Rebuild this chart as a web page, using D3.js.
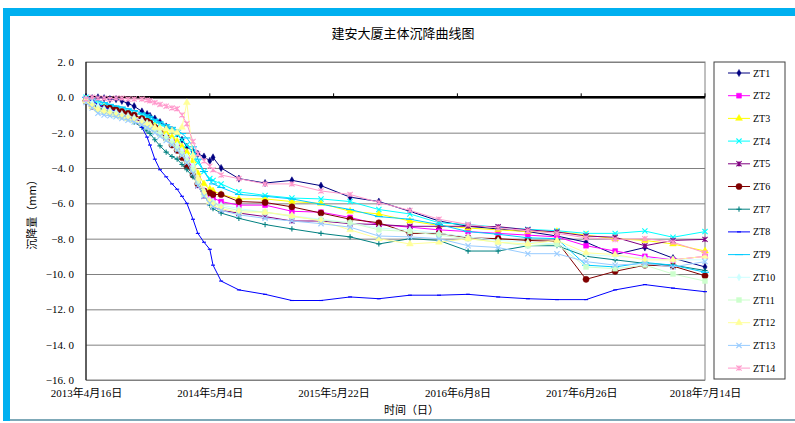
<!DOCTYPE html>
<html>
<head>
<meta charset="utf-8">
<script src="https://cdn.jsdelivr.net/npm/d3@7"></script>
<style>
  body { margin: 0; background: #fff; }
  text { font-family: "Liberation Serif", "Noto Sans CJK SC", serif; fill: #000; }
</style>
</head>
<body>
<div id="chart"></div>
<script>
/*******  Data ******/
// survey dates (shared by all points)
const dates = [
  "2013-04-16", "2013-05-05", "2013-05-23", "2013-06-11", "2013-06-29", "2013-07-18",
  "2013-08-05", "2013-08-24", "2013-09-12", "2013-10-06", "2013-10-22", "2013-10-31",
  "2013-11-15", "2013-12-01", "2013-12-20", "2014-01-07", "2014-01-23", "2014-02-07",
  "2014-02-22", "2014-03-13", "2014-03-28", "2014-04-16", "2014-05-04", "2014-05-14",
  "2014-06-08",
  "2014-08-02", "2014-10-22", "2015-01-13", "2015-04-13", "2015-07-12", "2015-10-09",
  "2016-01-13", "2016-04-12", "2016-07-11", "2016-10-12", "2017-01-12", "2017-04-12",
  "2017-07-11", "2017-10-09", "2018-01-09", "2018-04-06", "2018-07-14"
];

// settlement (mm) per point
const zt1  = [0, -0.05, 0, -0.05, -0.1, -0.1, -0.2, -0.35, -0.5, -0.8, -0.95, -1.05, -1.2, -1.4, -1.65, -1.85, -2.05, -2.4, -2.8, -3.05, -3.2, -3.35, -3.6, -3.4, -4.0,
              -4.6, -4.85, -4.7, -5.0, -5.65, -5.9, -6.45, -7.0, -7.3, -7.45, -7.6, -7.85, -8.2, -8.9, -8.5, -9.1, -9.6];
const zt2  = [-0.1, -0.3, -0.5, -0.6, -0.7, -0.8, -0.9, -1.0, -1.1, -1.3, -1.45, -1.55, -1.75, -1.95, -2.2, -2.5, -2.8, -3.1, -3.5, -4.0, -4.6, -5.3, -5.6, -5.7, -5.9,
              -6.1, -6.1, -6.45, -6.5, -6.8, -7.2, -7.35, -7.5, -7.6, -7.7, -7.8, -7.9, -8.4, -8.7, -9.0, -9.2, -9.0];
const zt3  = [-0.1, -0.3, -0.45, -0.55, -0.65, -0.75, -0.85, -0.95, -1.05, -1.2, -1.35, -1.45, -1.6, -1.8, -2.0, -2.25, -2.5, -2.8, -3.1, -3.6, -4.3, -4.9, -5.2, -5.3, -5.5,
              -5.75, -5.75, -5.9, -6.0, -6.45, -6.6, -7.0, -7.25, -7.4, -7.5, -7.6, -7.6, -7.8, -8.0, -8.1, -8.3, -8.7];
const zt4  = [0, -0.2, -0.35, -0.45, -0.55, -0.6, -0.7, -0.8, -0.9, -1.0, -1.1, -1.2, -1.35, -1.5, -1.7, -1.9, -2.1, -2.4, -2.7, -3.1, -3.7, -4.2, -4.6, -4.7, -4.9,
              -5.35, -5.55, -5.7, -5.75, -5.9, -6.35, -6.6, -7.1, -7.2, -7.35, -7.47, -7.55, -7.7, -7.7, -7.57, -7.92, -7.6];
const zt5  = [-0.2, -0.4, -0.6, -0.7, -0.8, -0.9, -1.0, -1.1, -1.2, -1.4, -1.55, -1.65, -1.85, -2.05, -2.3, -2.55, -2.85, -3.2, -3.6, -4.2, -5.0, -5.6, -6.0, -6.2, -6.4,
              -6.55, -6.75, -7.0, -7.0, -7.15, -7.2, -7.3, -7.3, -7.3, -7.32, -7.5, -7.62, -7.85, -7.92, -8.4, -8.1, -8.04];
const zt6  = [-0.2, -0.5, -0.6, -0.6, -0.6, -0.65, -0.8, -0.9, -1.0, -1.2, -1.35, -1.45, -1.7, -1.95, -2.3, -2.7, -3.0, -3.4, -3.9, -4.4, -4.9, -5.3, -5.4, -5.5, -5.5,
              -5.9, -5.95, -6.2, -6.55, -6.9, -7.1, -7.7, -7.7, -7.95, -8.0, -8.1, -8.15, -10.3, -9.85, -9.5, -9.55, -10.1];
const zt7  = [-0.2, -0.4, -0.55, -0.7, -0.85, -0.95, -1.05, -1.2, -1.4, -1.7, -1.9, -2.05, -2.4, -2.75, -3.1, -3.35, -3.5, -3.8, -4.1, -4.5, -4.9, -5.5, -6.1, -6.3, -6.55,
              -6.85, -7.2, -7.45, -7.7, -7.9, -8.3, -8.0, -8.1, -8.7, -8.7, -8.4, -8.4, -9.0, -9.2, -9.4, -9.5, -9.8];
const zt8  = [0, -0.2, -0.4, -0.55, -0.7, -0.8, -0.95, -1.1, -1.3, -1.7, -2.25, -2.7, -3.5, -4.1, -4.5, -4.9, -5.2, -5.6, -6.0, -6.9, -7.7, -8.2, -8.6, -9.5, -10.4,
              -10.9, -11.15, -11.5, -11.5, -11.3, -11.4, -11.2, -11.2, -11.15, -11.3, -11.4, -11.45, -11.45, -10.9, -10.6, -10.8, -11.0];
const zt9  = [0, -0.1, -0.2, -0.3, -0.4, -0.5, -0.55, -0.65, -0.75, -0.9, -1.0, -1.1, -1.25, -1.4, -1.55, -1.7, -1.85, -2.05, -2.3, -2.8, -3.5, -4.2, -4.7, -4.9, -5.1,
              -5.5, -5.6, -5.75, -6.05, -6.35, -6.75, -6.9, -7.2, -7.6, -7.75, -7.95, -8.0, -9.5, -9.6, -9.35, -9.5, -9.9];
const zt10 = [-0.1, -0.3, -0.5, -0.65, -0.75, -0.85, -0.95, -1.05, -1.15, -1.3, -1.45, -1.55, -1.75, -1.95, -2.2, -2.45, -2.7, -3.0, -3.35, -3.9, -4.6, -5.3, -5.8, -5.9, -6.1,
              -6.3, -6.5, -6.7, -6.9, -7.1, -7.4, -7.5, -7.7, -7.9, -8.1, -8.2, -8.3, -8.9, -9.0, -9.1, -9.2, -9.2];
const zt11 = [-0.2, -0.5, -0.7, -0.8, -0.9, -1.0, -1.1, -1.2, -1.3, -1.45, -1.6, -1.7, -1.9, -2.1, -2.35, -2.6, -2.9, -3.2, -3.6, -4.1, -4.8, -5.5, -5.9, -6.0, -6.2,
              -6.4, -6.5, -6.75, -6.95, -7.1, -7.5, -7.6, -7.8, -8.0, -8.2, -8.4, -8.3, -9.6, -9.7, -9.5, -10.0, -10.4];
const zt12 = [-0.2, -0.5, -0.7, -0.8, -0.9, -1.0, -1.1, -1.2, -1.3, -1.45, -1.55, -1.6, -1.7, -1.75, -1.8, -1.9, -2.0, -1.7, -0.3, -3.3, -4.6, -5.4, -5.9, -6.1, -6.3,
              -6.5, -6.5, -6.7, -7.0, -7.5, -8.0, -8.3, -8.2, -8.0, -8.2, -8.3, -8.1, -8.8, -8.9, -9.2, -9.2, -9.0];
const zt13 = [-0.3, -0.6, -0.9, -1.0, -1.05, -1.1, -1.2, -1.3, -1.4, -1.55, -1.7, -1.8, -2.0, -2.2, -2.45, -2.7, -3.0, -3.3, -3.7, -4.3, -5.0, -5.6, -6.0, -6.2, -6.4,
              -6.65, -6.85, -7.0, -7.15, -7.35, -7.85, -7.9, -8.0, -8.4, -8.5, -8.85, -8.85, -9.3, -9.5, -9.4, -9.6, -9.3];
const zt14 = [-0.1, 0, -0.05, -0.05, -0.1, -0.05, -0.05, -0.1, -0.1, -0.1, -0.15, -0.2, -0.3, -0.4, -0.5, -0.6, -0.65, -1.0, -1.5, -2.5, -3.2, -3.6, -3.9, -4.1, -4.4,
              -4.6, -4.9, -4.9, -5.3, -5.5, -5.95, -6.4, -6.9, -7.2, -7.4, -7.55, -7.7, -7.95, -8.05, -8.0, -8.2, -8.8];

const seriesNames = ["ZT1", "ZT2", "ZT3", "ZT4", "ZT5", "ZT6", "ZT7",
                     "ZT8", "ZT9", "ZT10", "ZT11", "ZT12", "ZT13", "ZT14"];
const seriesValues = [zt1, zt2, zt3, zt4, zt5, zt6, zt7, zt8, zt9, zt10, zt11, zt12, zt13, zt14];

// axis ticks
const xTickDates = ["2013-04-16", "2014-05-04", "2015-05-22", "2016-06-08", "2017-06-26", "2018-07-14"];
const yTickValues = [2, 0, -2, -4, -6, -8, -10, -12, -14, -16];

// look of each series (Excel default palette + marker cycle)
const seriesStyle = [
  { color: "#000080", marker: "diamond" },
  { color: "#FF00FF", marker: "square" },
  { color: "#FFFF00", marker: "triangle" },
  { color: "#00FFFF", marker: "x" },
  { color: "#800080", marker: "star" },
  { color: "#800000", marker: "circle" },
  { color: "#008080", marker: "plus" },
  { color: "#0000FF", marker: "dash" },
  { color: "#00CCFF", marker: "longdash" },
  { color: "#CCFFFF", marker: "diamond" },
  { color: "#CCFFCC", marker: "square" },
  { color: "#FFFF99", marker: "triangle" },
  { color: "#99CCFF", marker: "x" },
  { color: "#FF99CC", marker: "star" }
];

/*******  Layout ******/
const svgW = 795;
const svgH = 423;
const margin = { top: 62, left: 86 };
const width = 619;
const height = 318;

const parseDate = d3.timeParse("%Y-%m-%d");
const fmtDate = d3.timeFormat("%Y年%-m月%-d日");

var svg = d3.select("#chart")
  .append("svg")
  .attr("width", svgW)
  .attr("height", svgH);

// Frame around the picture
svg.append("rect").attr("x", 3).attr("y", 8).attr("width", svgW - 3).attr("height", 8).attr("fill", "#00B0F0");
svg.append("rect").attr("x", 3).attr("y", 8).attr("width", 7).attr("height", 413).attr("fill", "#00B0F0");
svg.append("line").attr("x1", 10).attr("x2", svgW).attr("y1", 420).attr("y2", 420)
  .attr("stroke", "#7fa9b8").attr("stroke-width", 2);

// Title
svg.append("text")
  .attr("x", 403).attr("y", 38)
  .attr("text-anchor", "middle")
  .style("font-family", "'Noto Sans CJK SC'")
  .style("font-size", "13px")
  .text("建安大厦主体沉降曲线图");

var chartGroup = svg.append("g")
  .attr("transform", `translate(${margin.left}, ${margin.top})`);

/*******  Scales ******/
var xScale = d3.scaleTime()
  .domain([parseDate(xTickDates[0]), parseDate(xTickDates[xTickDates.length - 1])])
  .range([0, width]);

var yScale = d3.scaleLinear()
  .domain([-16, 2])
  .range([height, 0]);

/*******  Grid + axes ******/
var leftAxis = d3.axisLeft(yScale)
  .tickValues(yTickValues)
  .tickSize(-width)
  .tickPadding(12)
  .tickFormat(d3.format(".1f"));

var yAxis = chartGroup.append("g").call(leftAxis);
yAxis.select(".domain").remove();
yAxis.selectAll("line").attr("stroke", "#808080").attr("stroke-width", 1);
yAxis.selectAll("text")
  .style("font-size", "11px")
  .text(d => d3.format(".1f")(d).replace(".", ". "));

// plot area border
chartGroup.append("rect")
  .attr("width", width).attr("height", height)
  .attr("fill", "none").attr("stroke", "#808080");
chartGroup.append("line")
  .attr("x1", 0).attr("x2", 0).attr("y1", 0).attr("y2", height)
  .attr("stroke", "#000");

// category axis crossing at 0
var bottomAxis = d3.axisBottom(xScale)
  .tickValues(xTickDates.map(parseDate))
  .tickSize(0)
  .tickFormat(fmtDate);

chartGroup.append("line")
  .attr("x1", 0).attr("x2", width)
  .attr("y1", yScale(0)).attr("y2", yScale(0))
  .attr("stroke", "#000").attr("stroke-width", 2.5);
chartGroup.selectAll(".xtick")
  .data(xTickDates.map(parseDate))
  .enter()
  .append("line")
  .attr("x1", d => xScale(d)).attr("x2", d => xScale(d))
  .attr("y1", yScale(0) - 4).attr("y2", yScale(0))
  .attr("stroke", "#000");

// labels sit below the plot
var xAxis = chartGroup.append("g")
  .attr("transform", `translate(0, ${height})`)
  .call(bottomAxis);
xAxis.select(".domain").remove();
xAxis.selectAll("text")
  .attr("dy", "1.3em")
  .style("font-size", "11px");

// Axis titles
chartGroup.append("text")
  .attr("x", width / 2 + 16).attr("y", height + 34)
  .attr("text-anchor", "middle")
  .style("font-family", "'Noto Sans CJK SC'")
  .style("font-size", "11px")
  .text("时间（日）");

chartGroup.append("text")
  .attr("transform", "rotate(-90)")
  .attr("x", -150).attr("y", -50)
  .attr("text-anchor", "middle")
  .style("font-family", "'Noto Sans CJK SC'")
  .style("font-size", "11px")
  .text("沉降量（mm）");

/*******  Markers ******/
function markerPath(type) {
  const s = 2.6;
  switch (type) {
    case "diamond":  return d3.symbol(d3.symbolDiamond, 15)();
    case "square":   return d3.symbol(d3.symbolSquare, 24)();
    case "triangle": return d3.symbol(d3.symbolTriangle, 20)();
    case "circle":   return d3.symbol(d3.symbolCircle, 30)();
    case "x":        return `M${-s},${-s}L${s},${s}M${-s},${s}L${s},${-s}`;
    case "star":     return `M${-s},${-s}L${s},${s}M${-s},${s}L${s},${-s}M0,${-s}L0,${s}`;
    case "plus":     return `M${-s},0L${s},0M0,${-s}L0,${s}`;
    case "dash":     return "M-2,0L2,0";
    case "longdash": return "M-4,0L4,0";
  }
}
const filled = ["diamond", "square", "triangle", "circle"];

function drawMarker(sel, style) {
  const isFill = filled.includes(style.marker);
  sel.attr("d", markerPath(style.marker))
    .attr("fill", isFill ? style.color : "none")
    .attr("stroke", style.color)
    .attr("stroke-width", isFill ? 0.5 : 1.1);
}

/*******  Series ******/
var line = d3.line()
  .x(d => xScale(d.date))
  .y(d => yScale(d.v));

seriesValues.forEach(function(vals, i) {
  const pts = vals.map((v, j) => ({ date: parseDate(dates[j]), v: v }));
  const style = seriesStyle[i];
  const g = chartGroup.append("g");

  g.append("path")
    .datum(pts)
    .attr("d", line)
    .attr("fill", "none")
    .attr("stroke", style.color)
    .attr("stroke-width", 1);

  g.selectAll("path.mk")
    .data(pts)
    .enter()
    .append("path")
    .attr("class", "mk")
    .attr("transform", d => `translate(${xScale(d.date)},${yScale(d.v)})`)
    .call(drawMarker, style);
});

/*******  Legend ******/
var legend = svg.append("g");
legend.append("rect")
  .attr("x", 714).attr("y", 62)
  .attr("width", 71).attr("height", 317)
  .attr("fill", "#fff")
  .attr("stroke", "#404040");

var items = legend.selectAll(".item")
  .data(seriesNames)
  .enter()
  .append("g")
  .attr("transform", (d, i) => `translate(739, ${73 + i * 22.7})`);

items.append("line")
  .attr("x1", -11).attr("x2", 11)
  .attr("stroke", (d, i) => seriesStyle[i].color)
  .attr("stroke-width", 1);
items.append("path")
  .each(function(d, i) { d3.select(this).call(drawMarker, seriesStyle[i]); });
items.append("text")
  .attr("x", 14).attr("dy", "0.35em")
  .style("font-size", "10px")
  .text(d => d);
</script>
</body>
</html>
